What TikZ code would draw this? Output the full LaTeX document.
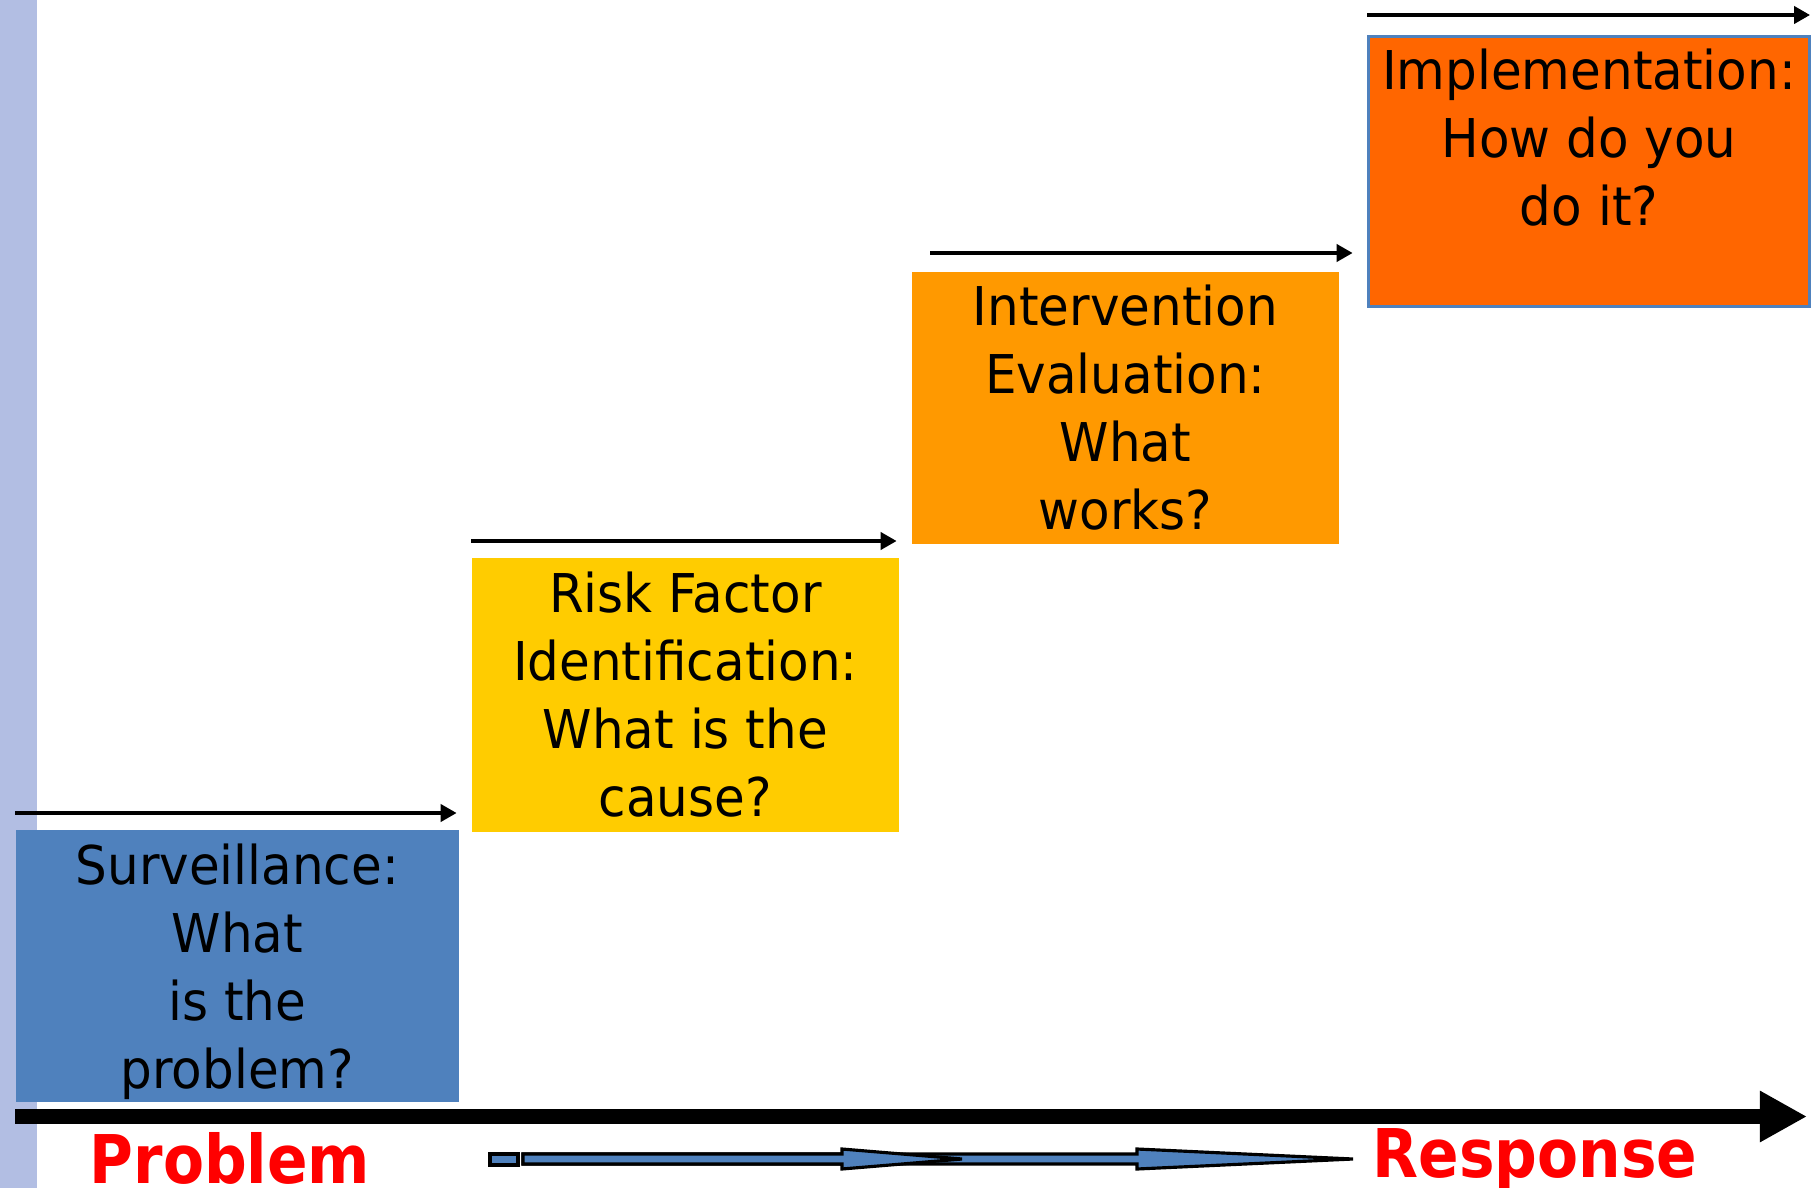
\documentclass[tikz,border=0pt]{standalone}
\usepackage{fontspec}
\setmainfont{DejaVu Sans}[FakeStretch=0.935]
\newfontfamily\labelfont{DejaVu Sans}[FakeStretch=0.89]
\usepackage{xcolor}
\usepackage{tikz}
\usetikzlibrary{positioning,arrows.meta,calc}

\definecolor{stepblue}{HTML}{4F81BD}
\definecolor{stepyellow}{HTML}{FFCC00}
\definecolor{steporange}{HTML}{FF9900}
\definecolor{stepdeep}{HTML}{FF6600}
\definecolor{sidebar}{RGB}{178,190,227}

\begin{document}
\begin{tikzpicture}[
  x=0.01cm, y=-0.01cm,
  stepbox/.style={inner sep=0pt, anchor=north west, align=center,
    font=\fontsize{15.2}{19.35}\selectfont},
  steparrow/.style={line width=1.1pt, -{Triangle[length=0.16cm,width=0.17cm]}},
  endlabel/.style={anchor=base, text=red, font=\labelfont\fontsize{19.1}{23}\selectfont\bfseries},
  flowarrow/.style={fill=stepblue, draw=black, line width=0.9pt, line join=miter},
]
  \useasboundingbox (0,0) rectangle (1818,1188);
  \fill[sidebar] (0,0) rectangle (37,1188);

  % --- Steps ---
  \node[stepbox, fill=stepblue, minimum width=4.43cm, minimum height=2.72cm]
    (surv) at (15,829) {\rule{0pt}{15pt}Surveillance:\\What\\is the\\problem?};
  \node[stepbox, fill=stepyellow, minimum width=4.27cm, minimum height=2.74cm]
    (risk) at (471,557) {Risk Factor\\Identification:\\What is the\\cause?};
  \node[stepbox, fill=steporange, minimum width=4.27cm, minimum height=2.72cm]
    (eval) at (911,271) {Intervention\\Evaluation:\\What\\works?};
  \node[stepbox, fill=stepdeep, draw=stepblue, line width=0.8pt,
    minimum width=4.41cm, minimum height=2.70cm]
    (impl) at (1367,35) {Implementation:\\How do you\\do it?\\ \mbox{}};

  \draw[steparrow] ($(surv.north west)+(0,-16)$) -- ($(surv.north east)+(-3,-16)$);
  \draw[steparrow] ($(risk.north west)+(0,-16)$) -- ($(risk.north east)+(-3,-16)$);
  \draw[steparrow] ($(eval.north west)+(19,-18)$) -- ($(eval.north east)+(13,-18)$);
  \draw[steparrow] ($(impl.north west)+(0,-20)$) -- ($(impl.north east)+(-1,-20)$);

  % --- Axis ---
  \coordinate (axisstart) at (15,1116.5);
  \coordinate (axisend) at (1807,1116.5);
  \draw[line width=0.15cm, -{Triangle[length=0.47cm,width=0.48cm]}]
    (axisstart) -- (axisend);

  \node[endlabel] (problem) at (230,1183) {Problem};
  \node[endlabel] (response) at (1535,1177) {Response};

  % --- Flow ---
  \draw[flowarrow] (490,1154) rectangle (518,1165);
  \draw[flowarrow] (523,1154) -- (1137,1154) -- (1137,1149) -- (1353,1159)
    -- (1137,1169) -- (1137,1164) -- (523,1164) -- cycle;
  \draw[flowarrow] (523,1154) -- (842,1154) -- (842,1149) -- (962,1159)
    -- (842,1169) -- (842,1164) -- (523,1164) -- cycle;
\end{tikzpicture}
\end{document}
